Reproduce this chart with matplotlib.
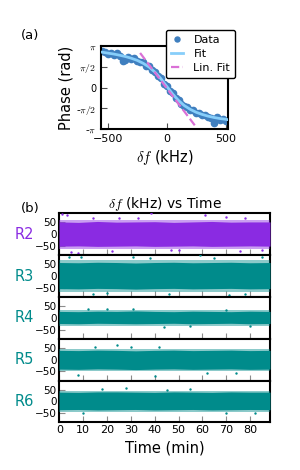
import numpy as np
import matplotlib
matplotlib.use('Agg')
import matplotlib.pyplot as plt

plt.rcParams['mathtext.fontset'] = 'cm'
plt.rcParams['font.family'] = 'DejaVu Sans'

# ---- panel (a): phase vs detuning ----
df_data = [-550, -525, -500, -475, -450, -425, -400, -375, -350, -325, -300,
           -275, -250, -225, -200, -175, -150, -125, -100, -75, -50, -25, 0,
           25, 50, 75, 100, 125, 150, 175, 200, 225, 250, 275, 300, 325, 350,
           375, 400, 425, 450, 475, 500, 520]
phase_data = [2.78, 2.70, 2.55, 2.62, 2.48, 2.58, 2.40, 2.05, 2.10, 2.30, 2.18,
              2.22, 2.00, 1.90, 1.92, 1.62, 1.60, 1.30, 1.22, 0.90, 0.72, 0.30,
              0.15, -0.25, -0.40, -0.80, -0.90, -1.25, -1.40, -1.45, -1.72,
              -1.70, -1.95, -1.88, -2.10, -2.05, -2.22, -2.30, -2.70, -2.25,
              -2.45, -2.35, -2.50, -2.55]
df_fit = [-550, -500, -450, -400, -350, -300, -250, -200, -150, -100, -50, 0,
          50, 100, 150, 200, 250, 300, 350, 400, 450, 500, 520]
phase_fit = [2.68, 2.61, 2.54, 2.45, 2.35, 2.22, 2.06, 1.84, 1.56, 1.17, 0.68,
             0.10, -0.48, -0.97, -1.36, -1.64, -1.86, -2.02, -2.15, -2.25,
             -2.33, -2.39, -2.42]
df_lin = [-226, 242]
phase_lin = [2.62, -2.89]

# ---- panel (b): detuning vs time, one strip per resonator ----
resonators = ['R2', 'R3', 'R4', 'R5', 'R6']
res_colors = ['#8a2be2', '#008b8b', '#008b8b', '#008b8b', '#008b8b']
t_env = [0, 8, 16, 24, 32, 40, 48, 56, 64, 72, 80, 88.4]
core_hi = [[52, 50, 54, 51, 52, 53, 50, 52, 54, 51, 52, 52],
           [57, 56, 58, 57, 55, 57, 58, 56, 57, 58, 56, 57],
           [27, 26, 28, 27, 29, 27, 26, 28, 27, 26, 28, 27],
           [39, 38, 40, 39, 37, 39, 40, 38, 39, 40, 38, 39],
           [39, 38, 40, 40, 39, 38, 40, 39, 38, 40, 39, 39]]
core_lo = [[-50, -49, -51, -50, -49, -51, -50, -49, -51, -50, -49, -50],
           [-53, -54, -52, -53, -55, -53, -52, -54, -53, -52, -54, -53],
           [-24, -25, -23, -24, -25, -24, -23, -25, -24, -23, -25, -24],
           [-40, -41, -39, -40, -42, -40, -39, -41, -40, -39, -41, -40],
           [-35, -34, -36, -35, -34, -36, -35, -34, -36, -35, -34, -35]]
fringe = [62, 68, 33, 46, 45]
out_t = [[1, 3, 25, 38.6, 61, 78, 5, 8, 22, 50, 76, 85, 14, 33, 47, 70],
         [4, 9, 31, 59, 85, 46, 71, 20, 65, 14, 38, 78],
         [31, 12, 55, 70, 80, 20, 44],
         [24, 42, 40, 8, 62, 30, 15, 74],
         [28, 55, 70, 10, 45, 18, 82]]
out_v = [[85, 80, 70, 88, 80, 68, -75, -80, -70, -66, -72, -65, 68, 70, -68, 72],
         [80, 82, 80, 88, 82, -75, -78, -72, 78, -76, 75, -74],
         [38, 36, -36, 35, -34, 37, -37],
         [62, 55, -70, -65, -58, 52, 54, -56],
         [55, 52, -50, -48, 50, 53, -49]]

fig = plt.figure(figsize=(3.0, 4.7), dpi=100)

ax = fig.add_axes([0.337, 0.725, 0.423, 0.177])
ax.plot(df_data, phase_data, 'o', color='#3f7fbf', ms=4.5, label='Data', zorder=2)
ax.plot(df_fit, phase_fit, '-', color='#87cefa', lw=2, label='Fit', zorder=3)
ax.plot(df_lin, phase_lin, '--', color='orchid', lw=1.6, label='Lin. Fit', zorder=4)
ax.set_xlim(-557, 520)
ax.set_ylim(-np.pi, np.pi)
ax.set_xticks([-500, 0, 500])
ax.set_yticks([-np.pi, -np.pi / 2, 0, np.pi / 2, np.pi])
ax.set_yticklabels([r'-$\pi$', r'-$\pi/2$', '0', r'$\pi/2$', r'$\pi$'])
ax.tick_params(direction='in', length=4, color='0.3', labelsize=8)
ax.tick_params(axis='y', labelsize=7)
for s in ax.spines.values():
    s.set_linewidth(1.5)
ax.set_xlabel(r'$\delta f$ (kHz)', fontsize=10.5, labelpad=3)
ax.set_ylabel('Phase (rad)', fontsize=10.5, labelpad=2)
leg = ax.legend(loc='upper right', bbox_to_anchor=(1.1, 1.26), fontsize=8,
                handlelength=1.1, handletextpad=0.9, borderpad=0.45,
                labelspacing=0.35, framealpha=1, edgecolor='black',
                fancybox=True, markerscale=0.8)
leg.get_frame().set_linewidth(1.0)
fig.text(0.068, 0.925, '(a)', fontsize=9.5, ha='left', va='center')

# strips
bottom, top = 0.1015, 0.546
h = (top - bottom) / len(resonators)
axes_b = []
for i, name in enumerate(resonators):
    axb = fig.add_axes([0.198, top - (i + 1) * h, 0.702, h])
    c = res_colors[i]
    axb.fill_between(t_env, [-fringe[i]] * len(t_env), [fringe[i]] * len(t_env),
                     color=c, alpha=0.45, lw=0, zorder=3)
    axb.fill_between(t_env, core_lo[i], core_hi[i], color=c, lw=0, zorder=3)
    axb.scatter(out_t[i], out_v[i], s=3, color=c, lw=0, zorder=3)
    axb.set_xlim(0, 88.4)
    axb.set_ylim(-88, 88)
    axb.set_yticks([-50, 0, 50])
    axb.tick_params(direction='in', length=4, color='0.55', labelsize=7.5, pad=2)
    axb.tick_params(axis='x', labelsize=8)
    axb.set_xticks(np.arange(0, 90, 10))
    if i < len(resonators) - 1:
        axb.tick_params(labelbottom=False)
    for s in axb.spines.values():
        s.set_linewidth(1.5)
    axb.set_ylabel(name, color=c, fontsize=10.5, rotation=0, ha='center',
                   va='center')
    axb.yaxis.set_label_coords(-0.168, 0.5)
    axes_b.append(axb)

axes_b[0].set_title(r'$\delta f$ (kHz) vs Time', fontsize=10, pad=4)
axes_b[-1].set_xlabel('Time (min)', fontsize=10.5, labelpad=4)
fig.text(0.068, 0.557, '(b)', fontsize=9.5, ha='left', va='center')

fig.savefig('out.png', dpi=100)
